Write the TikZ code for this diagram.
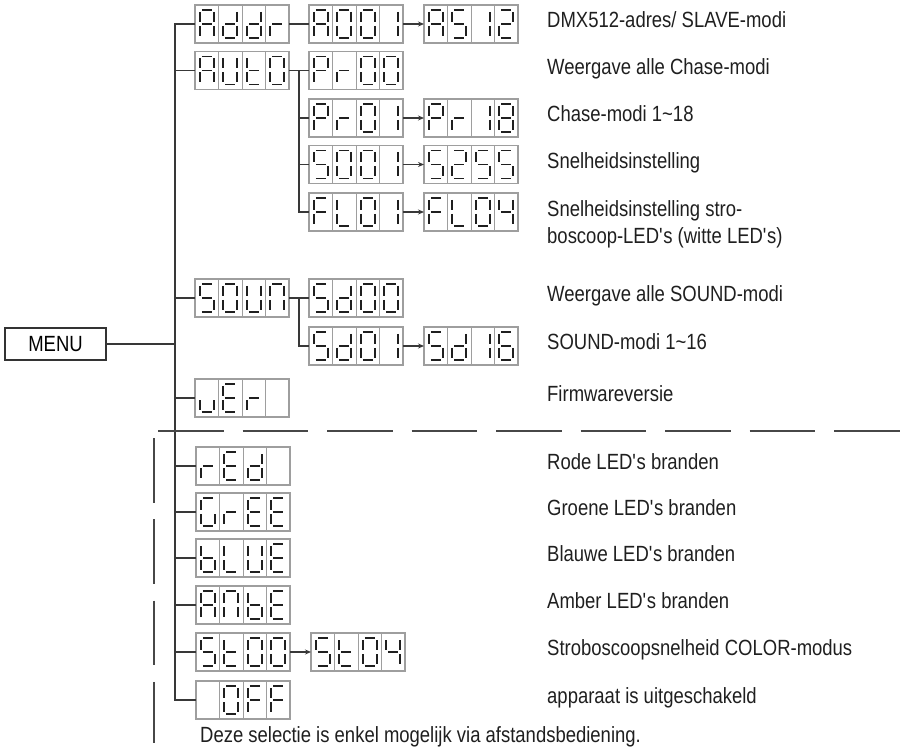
\documentclass[tikz,border=0pt]{standalone}
\usepackage{fontspec}
\setmainfont{Liberation Sans}[FakeStretch=0.84]
\usetikzlibrary{arrows.meta,positioning,calc}

\newcommand\defseg[2]{\expandafter\def\csname sgm-#1\endcsname{#2}}
\newcommand\defglyph[2]{\expandafter\def\csname chr-#1\endcsname{#2}}
\defseg{a}{(-4.8,-14) -- (4.8,-14)}
\defseg{b}{(7,-12) -- (7,-2)}
\defseg{c}{(7,2) -- (7,12)}
\defseg{d}{(-4.8,14) -- (4.8,14)}
\defseg{e}{(-7,2) -- (-7,12)}
\defseg{f}{(-7,-12) -- (-7,-2)}
\defseg{g}{(-4.8,0) -- (4.8,0)}
\defseg{z}{(0,0)}
\defglyph{A}{a,b,c,e,f,g}
\defglyph{d}{b,c,d,e,g}
\defglyph{r}{e,g}
\defglyph{0}{a,b,c,d,e,f}
\defglyph{1}{b,c}
\defglyph{2}{a,b,g,e,d}
\defglyph{4}{b,c,f,g}
\defglyph{5}{a,f,g,c,d}
\defglyph{6}{a,c,d,e,f,g}
\defglyph{8}{a,b,c,d,e,f,g}
\defglyph{U}{b,c,d,e,f}
\defglyph{u}{c,d,e}
\defglyph{n}{a,b,c,e,f}
\defglyph{t}{d,e,f,g}
\defglyph{P}{a,b,e,f,g}
\defglyph{F}{a,e,f,g}
\defglyph{L}{d,e,f}
\defglyph{E}{a,d,e,f,g}
\defglyph{G}{a,c,d,e,f}
\defglyph{b}{c,d,e,f,g}
\defglyph{x}{z}

\newcommand\showdigits[2]{%
  \begin{scope}[shift={(#1.west)}]
    \foreach \k in {1,2,3}
      \draw[cellrule] (23.5*\k,-19) -- (23.5*\k,19);
    \foreach \dg [count=\i] in {#2} {
      \edef\seglist{\csname chr-\dg\endcsname}
      \foreach \sg in \seglist {
        \expandafter\let\expandafter\segpath\csname sgm-\sg\endcsname
        \draw[seg, shift={(23.5*\i-11.75,0)}] \segpath;
      }
    }
  \end{scope}}

\begin{document}
\begin{tikzpicture}[
    x=1pt, y=-1pt,
    font=\fontsize{22}{27}\selectfont,
    disp/.style={draw=black!38, line width=1.3pt, minimum width=94pt,
      minimum height=38pt, inner sep=0pt, outer sep=0pt},
    cellrule/.style={draw=black!38, line width=1pt},
    seg/.style={draw=black!88, line width=1.7pt},
    menubox/.style={draw=black!80, line width=1.2pt, minimum width=101pt,
      minimum height=32pt, inner sep=0pt, outer sep=0pt},
    conn/.style={draw=black!78, line width=1.6pt},
    arr/.style={conn, -{Stealth[length=6pt, width=5pt]}},
    lbl/.style={anchor=west, inner sep=0pt, text height=15.5pt, text depth=0pt,
      text=black!88},
    lbltwo/.style={anchor=north west, inner sep=0pt, align=left, text=black!88},
    sepline/.style={draw=black!72, line width=1.6pt}
  ]
    \useasboundingbox (0,0) rectangle (900,751);

    \node[menubox] (menu) at (55.5,344) {MENU};

    \node[disp] (addr) at (242,24) {};
    \node[disp] (auto) at (242,70.5) {};
    \node[disp] (soun) at (242,298) {};
    \node[disp] (ver) at (242,398) {};
    \node[disp] (red) at (243,466) {};
    \node[disp] (gree) at (243,512) {};
    \node[disp] (blue) at (243,558) {};
    \node[disp] (ambe) at (243,605) {};
    \node[disp] (st00) at (243,652) {};
    \node[disp] (off) at (243,700) {};

    \node[disp, right=20pt of addr] (a001) {};
    \node[disp, right=21pt of a001] (as12) {};
    \node[disp, right=20pt of auto] (pr00) {};
    \node[disp, below=9.5pt of pr00] (pr01) {};
    \node[disp, right=21pt of pr01] (pr18) {};
    \node[disp, below=8.5pt of pr01] (s001) {};
    \node[disp, right=21pt of s001] (s255) {};
    \node[disp, below=9.5pt of s001] (fl01) {};
    \node[disp, right=21pt of fl01] (fl04) {};
    \node[disp, right=20pt of soun] (sd00) {};
    \node[disp, below=10pt of sd00] (sd01) {};
    \node[disp, right=21pt of sd01] (sd16) {};
    \node[disp, right=21pt of st00] (st04) {};

    \showdigits{addr}{A,d,d,r}
    \showdigits{a001}{A,0,0,1}
    \showdigits{as12}{A,5,1,2}
    \showdigits{auto}{A,U,t,0}
    \showdigits{pr00}{P,r,0,0}
    \showdigits{pr01}{P,r,0,1}
    \showdigits{pr18}{P,r,1,8}
    \showdigits{s001}{5,0,0,1}
    \showdigits{s255}{5,2,5,5}
    \showdigits{fl01}{F,L,0,1}
    \showdigits{fl04}{F,L,0,4}
    \showdigits{soun}{5,0,U,n}
    \showdigits{sd00}{5,d,0,0}
    \showdigits{sd01}{5,d,0,1}
    \showdigits{sd16}{5,d,1,6}
    \showdigits{ver}{u,E,r,x}
    \showdigits{red}{r,E,d,x}
    \showdigits{gree}{G,r,E,E}
    \showdigits{blue}{b,L,U,E}
    \showdigits{ambe}{A,n,b,E}
    \showdigits{st00}{5,t,0,0}
    \showdigits{st04}{5,t,0,4}
    \showdigits{off}{x,0,F,F}

    \coordinate (trunk) at ($(addr.west)+(-20,0)$);
    \draw[conn] (addr.west) -- (trunk) |- (off.west);
    \foreach \n in {auto,soun,ver,red,gree,blue,ambe,st00}
      \draw[conn] (\n.west) -- (\n.west -| trunk);
    \draw[conn] (menu.east) -- (menu.east -| trunk);

    \draw[conn] (addr) -- (a001);
    \coordinate (autobus) at ($(auto.east)!.5!(pr00.west)$);
    \draw[conn] (auto) -- (pr00);
    \draw[conn] (autobus) |- (fl01.west);
    \foreach \n in {pr01,s001}
      \draw[conn] (\n.west) -- (\n.west -| autobus);
    \coordinate (soundbus) at ($(soun.east)!.5!(sd00.west)$);
    \draw[conn] (soun) -- (sd00);
    \draw[conn] (soundbus) |- (sd01.west);
    \foreach \a/\b in {a001/as12,pr01/pr18,s001/s255,fl01/fl04,sd01/sd16,st00/st04}
      \draw[arr] (\a) -- (\b);

    \node[lbl] (l-addr) at (547,20) {DMX512-adres/ SLAVE-modi};
    \node[lbl] (l-pr00) at (547,66.5) {Weergave alle Chase-modi};
    \node[lbl] (l-pr01) at (547,114) {Chase-modi 1\textasciitilde18};
    \node[lbl] (l-s001) at (547,160.5) {Snelheidsinstelling};
    \node[lbltwo] (l-fl01) at (547,200) {Snelheidsinstelling stro-\\boscoop-LED\textquotesingle s (witte LED\textquotesingle s)};
    \node[lbl] (l-sd00) at (547,294) {Weergave alle SOUND-modi};
    \node[lbl] (l-sd01) at (547,342) {SOUND-modi 1\textasciitilde16};
    \node[lbl] (l-ver) at (547,394) {Firmwareversie};
    \node[lbl] (l-red) at (547,462) {Rode LED\textquotesingle s branden};
    \node[lbl] (l-gree) at (547,508) {Groene LED\textquotesingle s branden};
    \node[lbl] (l-blue) at (547,554) {Blauwe LED\textquotesingle s branden};
    \node[lbl] (l-ambe) at (547,601) {Amber LED\textquotesingle s branden};
    \node[lbl] (l-st00) at (547,648) {Stroboscoopsnelheid COLOR-modus};
    \node[lbl] (l-off) at (547,696) {apparaat is uitgeschakeld};
    \node[lbl] (note) at (200,735) {Deze selectie is enkel mogelijk via afstandsbediening.};

    \coordinate (sep-w) at (158,431);
    \coordinate (sep-e) at (900,431);
    \draw[sepline, dash pattern=on 65.5pt off 19pt] (sep-w) -- (sep-e);
    \coordinate (remote-n) at (154,438);
    \coordinate (remote-s) at (154,743);
    \draw[sepline, dash pattern=on 64.5pt off 16.8pt] (remote-n) -- (remote-s);
  \end{tikzpicture}
\end{document}
